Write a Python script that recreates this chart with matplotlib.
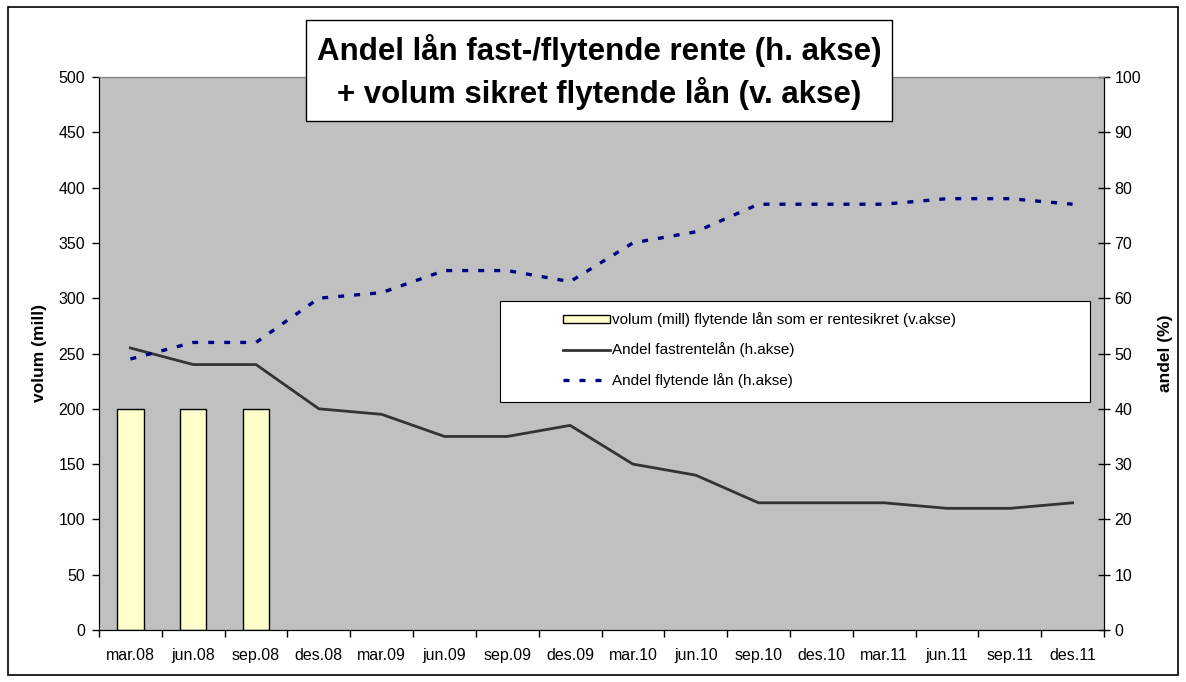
import numpy as np
import matplotlib.pyplot as plt
from matplotlib.patches import Rectangle
from matplotlib.lines import Line2D

plt.rcParams['font.family'] = ['Liberation Sans', 'DejaVu Sans']

quarters = ['mar.08', 'jun.08', 'sep.08', 'des.08', 'mar.09', 'jun.09', 'sep.09', 'des.09',
            'mar.10', 'jun.10', 'sep.10', 'des.10', 'mar.11', 'jun.11', 'sep.11', 'des.11']
volum_sikret = [200, 200, 200]
andel_fast = [51, 48, 48, 40, 39, 35, 35, 37, 30, 28, 23, 23, 23, 22, 22, 23]
andel_flyt = [49, 52, 52, 60, 61, 65, 65, 63, 70, 72, 77, 77, 77, 78, 78, 77]

W, H = 1186, 682
fig = plt.figure(figsize=(W / 100, H / 100), dpi=100)
fig.patch.set_facecolor('white')


def fx(px):
    return px / W


def fy(py):
    return 1 - py / H


ax = fig.add_axes([fx(99), fy(630), fx(1104) - fx(99), fy(77) - fy(630)])
ax.set_facecolor('#C0C0C0')
x = np.arange(len(quarters))

ax.bar(x[:len(volum_sikret)], volum_sikret, width=0.42, color='#FFFFCC',
       edgecolor='black', linewidth=1, zorder=2)
ax.set_xlim(-0.5, len(quarters) - 0.5)
ax.set_ylim(0, 500)
ax.set_yticks(np.arange(0, 501, 50))
ax.set_xticks(x)
ax.set_xticklabels(quarters)
ax.set_xticks(np.arange(-0.5, len(quarters)), minor=True)
ax.tick_params(axis='x', which='major', length=0, pad=13, labelsize=11.5)
ax.tick_params(axis='x', which='minor', length=5, width=1, direction='out')
ax.tick_params(axis='y', length=5, width=1, labelsize=11.5, pad=5)
ax.set_ylabel('volum (mill)', fontsize=12.5, fontweight='bold', labelpad=8)

dash = (0, (1.8, 3.0))
ax2 = ax.twinx()
ax2.plot(x, andel_fast, color='#333333', linewidth=2.0, zorder=3)
ax2.plot(x, andel_flyt, color='#000080', linewidth=2.4, linestyle=dash, zorder=3)
ax2.set_ylim(0, 100)
ax2.set_yticks(np.arange(0, 101, 10))
ax2.tick_params(axis='y', length=9, width=1, direction='inout', labelsize=11.5, pad=3)
ax2.set_ylabel('andel (%)', fontsize=12.5, fontweight='bold', rotation=90, labelpad=12)

for a in (ax, ax2):
    a.spines['top'].set_color('#808080')
    for s in ('left', 'right', 'bottom'):
        a.spines[s].set_color('black')

# legend box
bx0, bx1 = (500 - 99) / 1005, (1090 - 99) / 1005
by0, by1 = (630 - 402) / 553, (630 - 301) / 553
ax2.add_patch(Rectangle((bx0, by0), bx1 - bx0, by1 - by0, transform=ax2.transAxes,
                        facecolor='white', edgecolor='black', linewidth=0.8, zorder=5))
handles = [Rectangle((0, 0), 1, 1, facecolor='#FFFFCC', edgecolor='black', linewidth=1),
           Line2D([], [], color='#333333', linewidth=2.0),
           Line2D([], [], color='#000080', linewidth=2.4, linestyle=dash)]
labels = ['volum (mill) flytende lån som er rentesikret (v.akse)',
          'Andel fastrentelån (h.akse)', 'Andel flytende lån (h.akse)']
leg = ax2.legend(handles, labels, loc='center left',
                 bbox_to_anchor=((563 - 99) / 1005, (630 - 350) / 553),
                 frameon=False, fontsize=11, handlelength=3.1, handleheight=0.45,
                 handletextpad=0.1, labelspacing=1.0, borderpad=0, borderaxespad=0)
leg.set_zorder(6)

# title box
fig.patches.append(Rectangle((fx(306), fy(121)), fx(892) - fx(306), fy(20) - fy(121),
                             transform=fig.transFigure, facecolor='white',
                             edgecolor='black', linewidth=1, zorder=10))
fig.text(fx(599), fy(72), 'Andel lån fast-/flytende rente (h. akse)\n+ volum sikret flytende lån (v. akse)',
         ha='center', va='center', fontsize=22.5, fontweight='bold', linespacing=1.4, zorder=11)

# outer border
fig.patches.append(Rectangle((fx(8), fy(675)), fx(1178) - fx(8), fy(7) - fy(675),
                             transform=fig.transFigure, facecolor='none',
                             edgecolor='black', linewidth=1.2, zorder=0))

plt.savefig('out.png', dpi=100)
